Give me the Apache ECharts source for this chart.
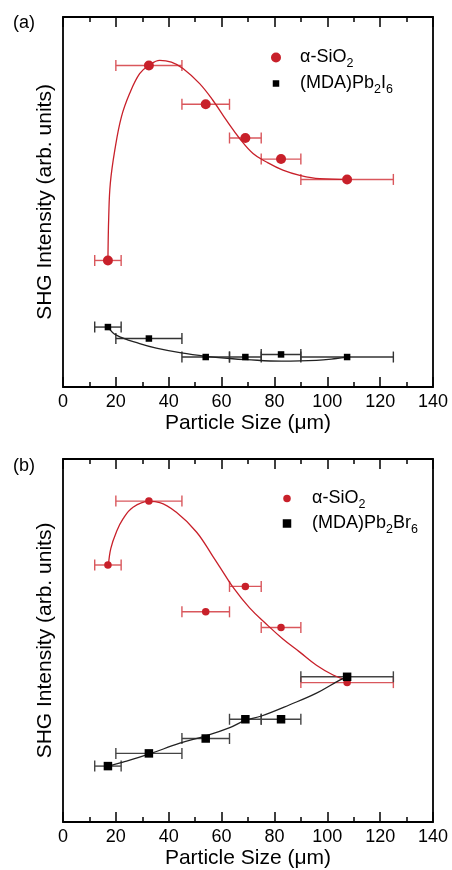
<!DOCTYPE html>
<html>
<head>
<meta charset="utf-8">
<script src="https://cdn.jsdelivr.net/npm/echarts@6/dist/echarts.min.js"></script>
<style>
  html, body { margin: 0; padding: 0; background: #fff; }
  #chart { width: 452px; height: 870px; }
</style>
</head>
<body>
<div id="chart"></div>
<script>
// particle size bins (um): centre and sieve range
var sizes = [17, 32.5, 54, 69, 82.5, 107.5]
var sizeLo = [12, 20, 45, 63, 75, 90]
var sizeHi = [22, 45, 63, 75, 90, 125]

// panel (a), arbitrary units 0..100
var aSiO2 = [34.2, 86.9, 76.4, 67.3, 61.6, 56.1]
var aPbI = [16.2, 13.1, 8.1, 8.1, 8.8, 8.1]
// panel (b)
var bSiO2 = [70.8, 88.4, 57.9, 64.9, 53.6, 38.4]
var bPbBr = [15.4, 18.9, 23.0, 28.3, 28.3, 40.0]

// fit curves
var aFitSiO2X = [17, 17.3, 17.9, 19.6, 22.1, 25.2, 29, 32.5, 36.6, 41, 45.4, 51.7, 56.7, 61.8, 66.9, 71.9, 77, 83.2, 89.6, 97.1, 107.8]
var aFitSiO2Y = [34.2, 45.9, 55.0, 64.0, 73.0, 79.3, 84.7, 86.9, 88.3, 87.8, 86.1, 82.0, 77.5, 72.1, 67.1, 63.1, 60.8, 58.6, 57.2, 56.3, 56.1]
var aFitPbX = [17, 20.2, 29, 35.3, 44.8, 54.2, 63.1, 69.4, 82.6, 95.9, 103.4, 107.5]
var aFitPbY = [16.2, 14.0, 11.7, 10.5, 9.2, 8.3, 7.7, 7.4, 7.0, 7.2, 7.7, 8.1]
var bFitSiO2X = [17.2, 18.1, 20.2, 22.7, 26.5, 32.5, 36.6, 42.9, 50.5, 56.7, 59.3, 64.3, 70.6, 77, 83.2, 89.6, 95.9, 102.2, 107.2]
var bFitSiO2Y = [70.8, 75.4, 79.9, 83.5, 86.7, 88.3, 88.0, 85.3, 79.9, 73.2, 70.3, 64.7, 59.0, 54.5, 50.4, 46.8, 43.2, 40.5, 39.1]
var bFitPbX = [17.2, 22.7, 32.5, 44.2, 54, 63.1, 69, 75.1, 85.8, 95.9, 104.7, 107.5]
var bFitPbY = [15.4, 16.5, 18.7, 21.7, 23.7, 26.0, 28.0, 29.2, 32.3, 35.5, 39.1, 40.0]

var FONT = 'Liberation Sans'
var RED = '#c8202a'

function pairs (xs, ys) {
  var out = []
  for (var i = 0; i < xs.length; i++) out.push([xs[i], ys[i]])
  return out
}
function errData (ys) {
  var out = []
  for (var i = 0; i < sizes.length; i++) out.push([sizes[i], ys[i], sizeLo[i], sizeHi[i]])
  return out
}
function errRender (params, api) {
  var y = api.value(1)
  var p1 = api.coord([api.value(2), y])
  var p2 = api.coord([api.value(3), y])
  var h = 5.5
  var st = {stroke: api.visual('color'), lineWidth: 1.4}
  return {
    type: 'group',
    children: [
      {type: 'line', shape: {x1: p1[0], y1: p1[1], x2: p2[0], y2: p2[1]}, style: st},
      {type: 'line', shape: {x1: p1[0], y1: p1[1] - h, x2: p1[0], y2: p1[1] + h}, style: st},
      {type: 'line', shape: {x1: p2[0], y1: p2[1] - h, x2: p2[0], y2: p2[1] + h}, style: st}
    ]
  }
}

var labels = {
  aSiO2: '{p|α-SiO}{s|2}',
  bSiO2: '{p|α-SiO}{s|2}',
  aPbI: '{p|(MDA)Pb}{s|2}{m|I}{s|6}',
  bPbBr: '{p|(MDA)Pb}{s|2}{m|Br}{s|6}'
}
function mkLegend (name, cx, cy, size, textX, icon) {
  var left = cx - size / 2
  var pad = textX - (left + size + 5)
  return {
    data: [{name: name, icon: icon}],
    left: left,
    top: cy - 12,
    padding: 0,
    itemWidth: size,
    itemHeight: size,
    selectedMode: false,
    formatter: function (n) {
      return labels[n]
    },
    textStyle: {
      rich: {
        p: {fontFamily: FONT, fontSize: 18, color: '#000', lineHeight: 20, padding: [0, 0, 0, pad]},
        m: {fontFamily: FONT, fontSize: 18, color: '#000', lineHeight: 20},
        s: {fontFamily: FONT, fontSize: 12.5, color: '#000', lineHeight: 12, padding: [12, 0, 0, 0]}
      }
    }
  }
}

function xAxisBase (grid) {
  return {
    gridIndex: grid,
    type: 'value',
    min: 0,
    max: 140,
    interval: 20,
    axisLine: {show: false},
    axisTick: {show: true, inside: true, length: 10, lineStyle: {color: '#000', width: 1.5}},
    minorTick: {show: true, splitNumber: 2, length: 5, lineStyle: {color: '#000', width: 1.5}},
    splitLine: {show: false},
    minorSplitLine: {show: false}
  }
}
function xBottom (grid) {
  var ax = xAxisBase(grid)
  ax.position = 'bottom'
  ax.name = 'Particle Size (μm)'
  ax.nameLocation = 'middle'
  ax.nameGap = 26
  ax.nameTextStyle = {fontFamily: FONT, fontSize: 21, color: '#000'}
  ax.axisLabel = {fontFamily: FONT, fontSize: 18, color: '#000', margin: 6}
  return ax
}
function xTop (grid) {
  var ax = xAxisBase(grid)
  ax.position = 'top'
  ax.axisLabel = {show: false}
  return ax
}
function yAxis (grid) {
  return {
    gridIndex: grid,
    type: 'value',
    min: 0,
    max: 100,
    name: 'SHG Intensity (arb. units)',
    nameLocation: 'middle',
    nameGap: 7,
    nameTextStyle: {fontFamily: FONT, fontSize: 21, color: '#000'},
    axisLine: {show: false},
    axisTick: {show: false},
    axisLabel: {show: false},
    splitLine: {show: false}
  }
}

var chart = echarts.init(document.getElementById('chart'), null, {renderer: 'canvas'})
chart.setOption({
  backgroundColor: '#fff',
  animation: false,
  title: [
    {text: '(a)', left: 13, top: 14, padding: 0, textStyle: {fontFamily: FONT, fontSize: 18, fontWeight: 'normal', color: '#000'}},
    {text: '(b)', left: 13, top: 457, padding: 0, textStyle: {fontFamily: FONT, fontSize: 18, fontWeight: 'normal', color: '#000'}}
  ],
  grid: [
    {left: 63, top: 17, width: 370, height: 370, show: true, borderColor: '#000', borderWidth: 1.8, backgroundColor: 'transparent'},
    {left: 63, top: 459, width: 370, height: 368, show: true, borderColor: '#000', borderWidth: 1.8, backgroundColor: 'transparent'}
  ],
  xAxis: [xBottom(0), xTop(0), xBottom(1), xTop(1)],
  yAxis: [yAxis(0), yAxis(1)],
  legend: [
    mkLegend('aSiO2', 276, 57, 10, 300, 'circle'),
    mkLegend('aPbI', 276, 83, 6.5, 300, 'rect'),
    mkLegend('bSiO2', 287, 498, 7.5, 312, 'circle'),
    mkLegend('bPbBr', 287, 523, 8.5, 312, 'rect')
  ],
  series: [
    // panel (a)
    {type: 'custom', name: 'aErrR', xAxisIndex: 0, yAxisIndex: 0, renderItem: errRender, itemStyle: {color: '#d9575c'}, data: errData(aSiO2), z: 2},
    {type: 'custom', name: 'aErrK', xAxisIndex: 0, yAxisIndex: 0, renderItem: errRender, itemStyle: {color: '#333'}, data: errData(aPbI), z: 2},
    {type: 'line', name: 'aFitR', xAxisIndex: 0, yAxisIndex: 0, data: pairs(aFitSiO2X, aFitSiO2Y), smooth: 0.4, showSymbol: false, lineStyle: {color: RED, width: 1.3}, z: 3},
    {type: 'line', name: 'aFitK', xAxisIndex: 0, yAxisIndex: 0, data: pairs(aFitPbX, aFitPbY), smooth: 0.4, showSymbol: false, lineStyle: {color: '#222', width: 1.3}, z: 3},
    {type: 'scatter', name: 'aSiO2', xAxisIndex: 0, yAxisIndex: 0, symbol: 'circle', symbolSize: 10, itemStyle: {color: RED, opacity: 1}, data: pairs(sizes, aSiO2), z: 4},
    {type: 'scatter', name: 'aPbI', xAxisIndex: 0, yAxisIndex: 0, symbol: 'rect', symbolSize: 6.5, itemStyle: {color: '#000', opacity: 1}, data: pairs(sizes, aPbI), z: 4},
    // panel (b)
    {type: 'custom', name: 'bErrR', xAxisIndex: 2, yAxisIndex: 1, renderItem: errRender, itemStyle: {color: '#d9575c'}, data: errData(bSiO2), z: 2},
    {type: 'custom', name: 'bErrK', xAxisIndex: 2, yAxisIndex: 1, renderItem: errRender, itemStyle: {color: '#444'}, data: errData(bPbBr), z: 2},
    {type: 'line', name: 'bFitR', xAxisIndex: 2, yAxisIndex: 1, data: pairs(bFitSiO2X, bFitSiO2Y), smooth: 0.4, showSymbol: false, lineStyle: {color: RED, width: 1.3}, z: 3},
    {type: 'line', name: 'bFitK', xAxisIndex: 2, yAxisIndex: 1, data: pairs(bFitPbX, bFitPbY), smooth: 0.4, showSymbol: false, lineStyle: {color: '#222', width: 1.3}, z: 3},
    {type: 'scatter', name: 'bSiO2', xAxisIndex: 2, yAxisIndex: 1, symbol: 'circle', symbolSize: 7.5, itemStyle: {color: RED, opacity: 1}, data: pairs(sizes, bSiO2), z: 4},
    {type: 'scatter', name: 'bPbBr', xAxisIndex: 2, yAxisIndex: 1, symbol: 'rect', symbolSize: 8.5, itemStyle: {color: '#000', opacity: 1}, data: pairs(sizes, bPbBr), z: 4}
  ]
})
</script>
</body>
</html>
